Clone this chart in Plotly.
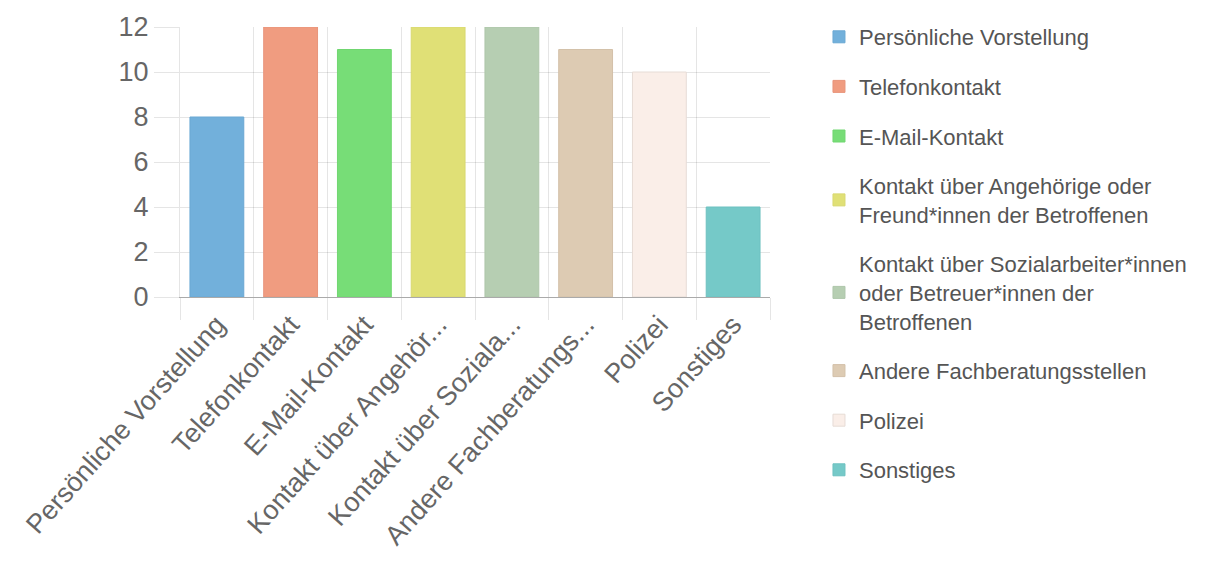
import plotly.graph_objects as go

categories = [
    "Persönliche Vorstellung",
    "Telefonkontakt",
    "E-Mail-Kontakt",
    "Kontakt über Angehörige oder Freund*innen der Betroffenen",
    "Kontakt über Sozialarbeiter*innen oder Betreuer*innen der Betroffenen",
    "Andere Fachberatungsstellen",
    "Polizei",
    "Sonstiges",
]
tick_labels = [
    "Persönliche Vorstellung",
    "Telefonkontakt",
    "E-Mail-Kontakt",
    "Kontakt über Angehör...",
    "Kontakt über Soziala...",
    "Andere Fachberatungs...",
    "Polizei",
    "Sonstiges",
]
legend_labels = [
    "Persönliche Vorstellung",
    "Telefonkontakt",
    "E-Mail-Kontakt",
    "Kontakt über Angehörige oder<br>Freund*innen der Betroffenen",
    "Kontakt über Sozialarbeiter*innen<br>oder Betreuer*innen der<br>Betroffenen",
    "Andere Fachberatungsstellen",
    "Polizei",
    "Sonstiges",
]
values = [8, 12, 11, 12, 12, 11, 10, 4]
colors = ["#72b0db", "#f09c80", "#77dd77", "#e0e076", "#b6ceb2", "#ddcbb3", "#faeee8", "#75c9c8"]
borders = ["#6aa8d3", "#e8947a", "#70d670", "#d8d870", "#aec6aa", "#d3c1a9", "#e6dcd6", "#6dc1c0"]

fig = go.Figure()
for i, cat in enumerate(categories):
    fig.add_trace(go.Bar(
        x=[cat], y=[values[i]], name=legend_labels[i],
        legendgroup=f"g{i}",
        marker=dict(color=colors[i], line=dict(color=borders[i], width=1)),
        width=0.73,
    ))

H = 563
grid = "rgba(0,0,0,0.1)"
font_family = "Liberation Sans, Arial, sans-serif"
fig.update_layout(
    width=1197, height=H,
    margin=dict(l=172, r=435, t=0, b=0),
    paper_bgcolor="white", plot_bgcolor="white",
    barmode="overlay",
    showlegend=True,
    font=dict(family=font_family, color="#666"),
    legend=dict(
        x=1.083, xanchor="left",
        y=1 - 8 / H, yanchor="top",
        font=dict(size=22, color="#555", family=font_family),
        tracegroupgap=18,
        itemwidth=30,
        maxheight=560,
    ),
    xaxis=dict(
        type="category",
        tickvals=categories, ticktext=tick_labels,
        tickangle=-48,
        tickson="boundaries",
        ticks="outside", ticklen=22, tickcolor=grid,
        showgrid=True, gridcolor=grid,
        showline=True, linecolor="#aaa", linewidth=1,
        tickfont=dict(size=27, color="#666"),
        automargin=False,
    ),
    yaxis=dict(
        domain=[(H - 289) / H, (H - 19) / H],
        range=[0, 12], dtick=2,
        ticks="outside", ticklen=25, tickcolor=grid,
        showgrid=True, gridcolor=grid,
        showline=True, linecolor=grid,
        zeroline=False,
        tickfont=dict(size=27, color="#666"),
        automargin=False,
    ),
)
fig.write_html("out.html")
